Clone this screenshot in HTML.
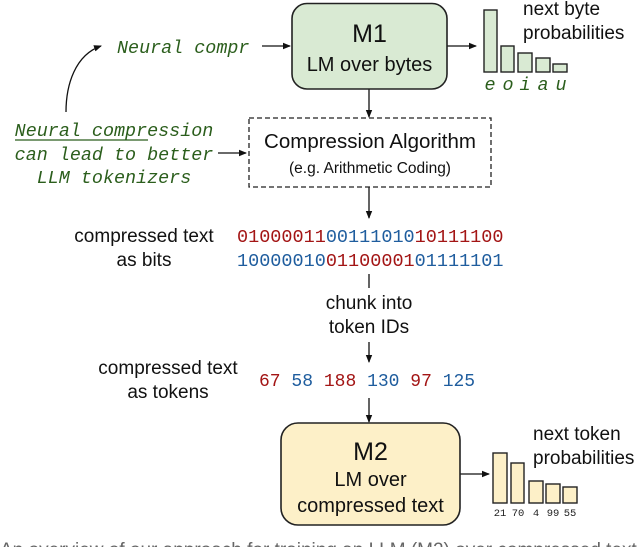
<!DOCTYPE html>
<html><head><meta charset="utf-8"><style>
html,body{margin:0;padding:0;background:#fff;}
svg{display:block;}
.s{font-family:"Liberation Sans",sans-serif;fill:#111;}
.m{font-family:"Liberation Mono",monospace;}
.g{font-family:"Liberation Mono",monospace;font-style:italic;fill:#2b5e1c;font-size:18.4px;}
.r{fill:#a31515;} .b{fill:#1f5d9e;}
</style></head><body>
<svg width="640" height="547" viewBox="0 0 640 547" xmlns="http://www.w3.org/2000/svg">
<defs><marker id="a" markerWidth="8" markerHeight="8" refX="7" refY="4" orient="auto" markerUnits="userSpaceOnUse"><path d="M0,0.8 L8,4 L0,7.2 Z" fill="#111"/></marker></defs>
<g stroke="#111" stroke-width="1.3" fill="none">
<line x1="262" y1="46" x2="290" y2="46" marker-end="url(#a)"/>
<line x1="447" y1="46" x2="476" y2="46" marker-end="url(#a)"/>
<line x1="369" y1="89" x2="369" y2="117" marker-end="url(#a)"/>
<line x1="218" y1="153" x2="246" y2="153" marker-end="url(#a)"/>
<path d="M66,112 C66,85 75,55 101,46" marker-end="url(#a)"/>
<line x1="369" y1="187" x2="369" y2="218" marker-end="url(#a)"/>
<line x1="369" y1="274" x2="369" y2="288"/>
<line x1="369" y1="342" x2="369" y2="362" marker-end="url(#a)"/>
<line x1="369" y1="398" x2="369" y2="422" marker-end="url(#a)"/>
<line x1="460" y1="474" x2="489" y2="474" marker-end="url(#a)"/>
</g>
<rect x="292" y="3.5" width="155" height="85.5" rx="15" fill="#d9ead3" stroke="#222" stroke-width="1.6"/>
<text class="s" x="369.5" y="42" font-size="25" text-anchor="middle">M1</text>
<text class="s" x="369.5" y="71" font-size="20" text-anchor="middle">LM over bytes</text>
<g fill="#d9ead3" stroke="#222" stroke-width="1.4">
<rect x="484" y="10" width="13" height="62"/><rect x="501" y="46" width="13" height="26"/><rect x="518" y="53" width="14" height="19"/><rect x="536" y="58" width="14" height="14"/><rect x="553" y="64" width="14" height="8"/>
</g>
<text class="g" x="490" y="90" text-anchor="middle">e</text><text class="g" x="508" y="90" text-anchor="middle">o</text><text class="g" x="525" y="90" text-anchor="middle">i</text><text class="g" x="543" y="90" text-anchor="middle">a</text><text class="g" x="561" y="90" text-anchor="middle">u</text>
<text class="s" x="523" y="15" font-size="19">next byte</text>
<text class="s" x="523" y="39" font-size="19">probabilities</text>
<text class="g" x="117" y="53">Neural compr</text>
<text class="g" x="114" y="136" text-anchor="middle">Neural compression</text>
<line x1="15" y1="140" x2="148" y2="140" stroke="#2b5e1c" stroke-width="1.3"/>
<text class="g" x="114" y="160" text-anchor="middle">can lead to better</text>
<text class="g" x="114" y="183" text-anchor="middle">LLM tokenizers</text>
<rect x="249" y="118" width="242" height="69" fill="none" stroke="#222" stroke-width="1.3" stroke-dasharray="5,3"/>
<text class="s" x="370" y="148" font-size="20.5" text-anchor="middle">Compression Algorithm</text>
<text class="s" x="370" y="173" font-size="15.5" text-anchor="middle">(e.g. Arithmetic Coding)</text>
<text class="s" x="144" y="242" font-size="19" text-anchor="middle">compressed text</text>
<text class="s" x="144" y="266" font-size="19" text-anchor="middle">as bits</text>
<text class="m" x="237" y="242" font-size="18.5"><tspan class="r">01000011</tspan><tspan class="b">00111010</tspan><tspan class="r">10111100</tspan></text>
<text class="m" x="237" y="266" font-size="18.5"><tspan class="b">10000010</tspan><tspan class="r">01100001</tspan><tspan class="b">01111101</tspan></text>
<text class="s" x="369" y="309" font-size="19" text-anchor="middle">chunk into</text>
<text class="s" x="369" y="333" font-size="19" text-anchor="middle">token IDs</text>
<text class="s" x="168" y="374" font-size="19" text-anchor="middle">compressed text</text>
<text class="s" x="168" y="398" font-size="19" text-anchor="middle">as tokens</text>
<text class="m" x="259" y="386" font-size="18"><tspan class="r">67</tspan> <tspan class="b">58</tspan> <tspan class="r">188</tspan> <tspan class="b">130</tspan> <tspan class="r">97</tspan> <tspan class="b">125</tspan></text>
<rect x="281" y="423" width="179" height="102" rx="17" fill="#fdf0c8" stroke="#222" stroke-width="1.6"/>
<text class="s" x="370.5" y="460" font-size="25" text-anchor="middle">M2</text>
<text class="s" x="370.5" y="486" font-size="20" text-anchor="middle">LM over</text>
<text class="s" x="370.5" y="512" font-size="20" text-anchor="middle">compressed text</text>
<g fill="#fdf0c8" stroke="#222" stroke-width="1.4">
<rect x="493" y="453" width="14" height="50"/><rect x="511" y="463" width="13" height="40"/><rect x="529" y="481" width="14" height="22"/><rect x="546" y="484" width="14" height="19"/><rect x="563" y="487" width="14" height="16"/>
</g>
<g class="m" font-size="10.5" fill="#222" text-anchor="middle"><text x="500" y="516">21</text><text x="518" y="516">70</text><text x="536" y="516">4</text><text x="553" y="516">99</text><text x="570" y="516">55</text></g>
<text class="s" x="533" y="440" font-size="19">next token</text>
<text class="s" x="533" y="464" font-size="19">probabilities</text>
<text class="s" x="0" y="556" font-size="19" fill="#666" style="fill:#666">An overview of our approach for training an LLM (M2) over compressed text</text>
</svg>
</body></html>
